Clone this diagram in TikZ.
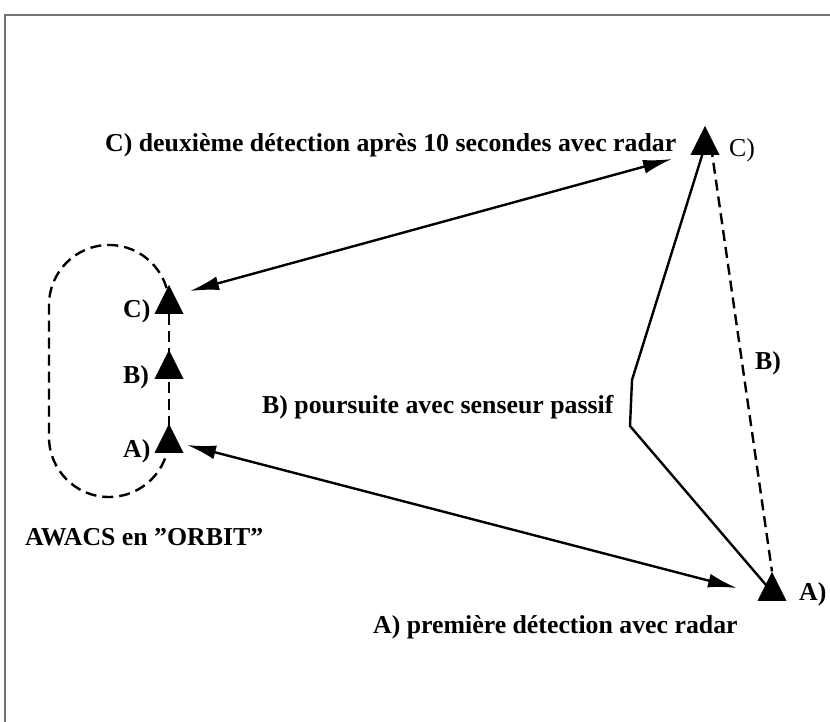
\documentclass[tikz,border=0pt]{standalone}
\usepackage{fontspec}
\setmainfont{Liberation Serif}
\usetikzlibrary{shapes.geometric,arrows.meta,backgrounds}
\begin{document}
\begin{tikzpicture}[x=1pt,y=-1pt,
  tri/.style={isosceles triangle, isosceles triangle stretches, shape border rotate=90,
    minimum width=29pt, minimum height=29pt, inner sep=0pt, fill=black, draw=none},
  lbl/.style={anchor=base west, inner sep=0pt, font=\fontsize{25.8}{30}\selectfont\bfseries},
  lblr/.style={anchor=base west, inner sep=0pt, font=\fontsize{25.8}{30}\selectfont},
  dsh/.style={line width=2.4pt, dash pattern=on 11pt off 6pt},
  sol/.style={line width=2.4pt},
  dbl/.style={line width=2.4pt, {Latex[length=29pt,width=14pt]}-{Latex[length=29pt,width=14pt]}}]
\useasboundingbox (0,0) rectangle (830,722);
% frame
\draw[line width=2pt, black!55] (5,722) -- (5,15) -- (830,15);
% triangles
\node[tri] (lC) at (169,305) {};
\node[tri] (lB) at (169,370) {};
\node[tri] (lA) at (169,444) {};
\node[tri] (rC) at (705,146) {};
\node[tri] (rA) at (772,592) {};
% labels
\node[lbl] (tC) at (105,152) {C) deuxième détection après 10 secondes avec radar};
\node[lbl] (tB) at (262,413) {B) poursuite avec senseur passif};
\node[lbl] (tA) at (373,633) {A) première détection avec radar};
\node[lbl] (tO) at (25,545) {AWACS en ”ORBIT”};
\node[lbl] (llC) at (123,317) {C)};
\node[lbl] (llB) at (123,383) {B)};
\node[lbl] (llA) at (123,457) {A)};
\node[lblr] (rlC) at (729,157) {C)};
\node[lbl] (rlB) at (755,369) {B)};
\node[lbl] (rlA) at (799,600) {A)};
% arrow end points
\coordinate (a1l) at (190,291);
\coordinate (a1r) at (672,159);
\coordinate (a2l) at (187,445);
\coordinate (a2r) at (737,588);
\coordinate (bend1) at (632,380);
\coordinate (bend2) at (630,426);
\begin{scope}[on background layer]
  % orbit
  \draw[dsh] (169,305) arc[start angle=0, end angle=-180, radius=60]
    -- (49,437) arc[start angle=180, end angle=0, radius=60];
  \draw[dsh] (lA.center) -- (lC.center);
  % right path
  \draw[sol] (rC.center) -- (bend1) -- (bend2) -- (rA.center);
  \draw[dsh] ([xshift=6pt]rC.center) -- (rA.apex);
\end{scope}
\draw[dbl] (a1l) -- (a1r);
\draw[dbl] (a2l) -- (a2r);
\end{tikzpicture}
\end{document}
